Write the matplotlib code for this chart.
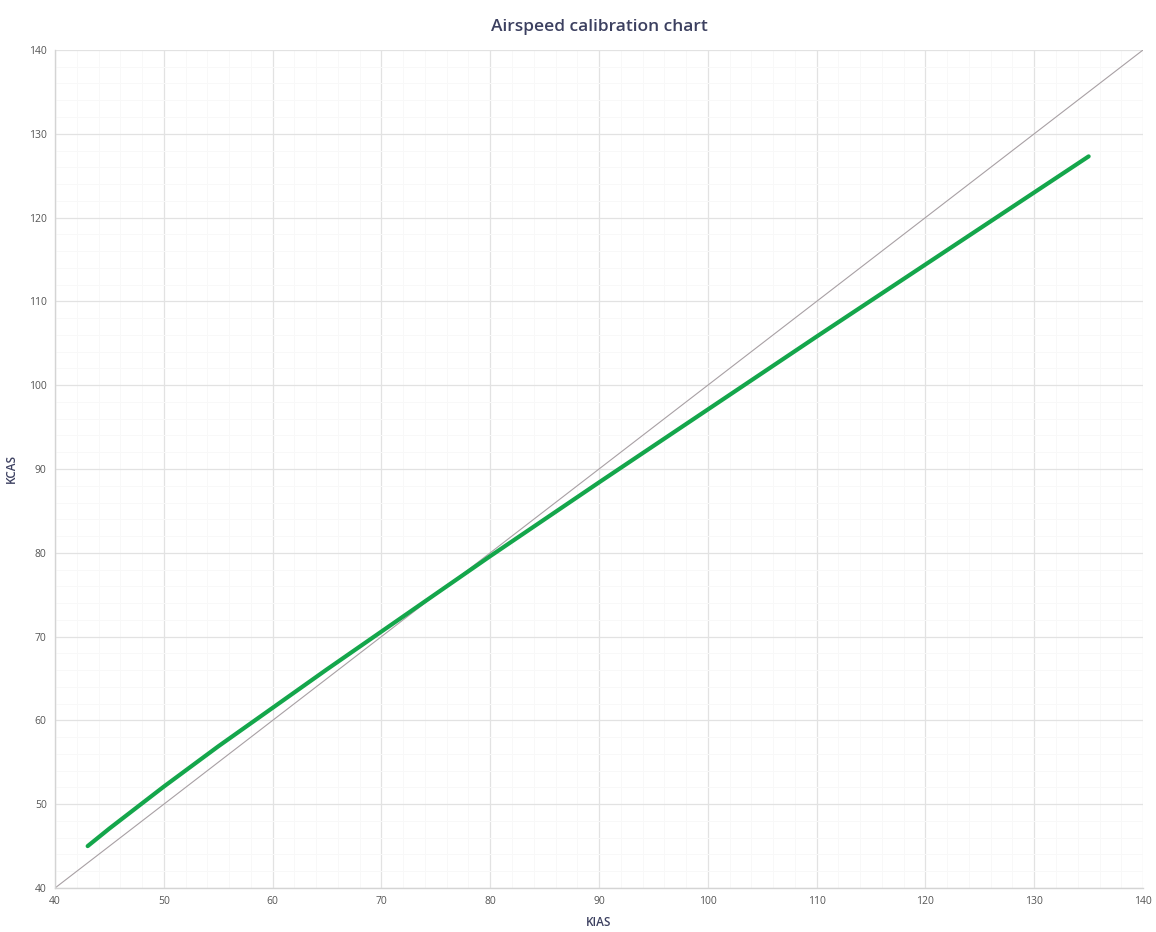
import matplotlib
matplotlib.use("Agg")
import matplotlib.pyplot as plt
from matplotlib.ticker import MultipleLocator

# Data
kias = [43, 45, 50, 55, 60, 65, 70, 75, 80, 90, 100, 110, 120, 130, 135]
kcas = [45.0, 47.1, 52.1, 56.9, 61.5, 66.1, 70.6, 75.1, 79.6, 88.4, 97.1, 105.8,
        114.4, 123.0, 127.3]
ref_line = [40, 140]
x_ticks = list(range(40, 141, 10))
y_ticks = list(range(40, 141, 10))

plt.rcParams['font.family'] = ['Open Sans', 'DejaVu Sans']

fig = plt.figure(figsize=(11.56, 9.32), dpi=100)
ax = fig.add_axes([0.0476, 0.0472, 0.9412, 0.8992])

ax.set_xlim(40, 140)
ax.set_ylim(40, 140)
ax.set_xticks(x_ticks)
ax.set_yticks(y_ticks)
ax.xaxis.set_minor_locator(MultipleLocator(2))
ax.yaxis.set_minor_locator(MultipleLocator(2))
ax.grid(which='major', color='#e2e2e2', linewidth=0.9)
ax.grid(which='minor', color='#f8f8f8', linewidth=0.7)
ax.set_axisbelow(True)

ax.plot(ref_line, ref_line, color='#a8a0a4', linewidth=0.8, zorder=2)
ax.plot(kias, kcas, color='#14a64b', linewidth=3.0, solid_capstyle='round',
        solid_joinstyle='round', zorder=3)

for s in ['top', 'right']:
    ax.spines[s].set_visible(False)
for s in ['left', 'bottom']:
    ax.spines[s].set_color('#d4d4d4')
    ax.spines[s].set_linewidth(1.0)

ax.tick_params(which='both', length=0, labelsize=7.5, labelcolor='#555555', pad=6)

ax.set_title('Airspeed calibration chart', fontsize=12.5, fontweight='semibold',
             color='#3c4060', pad=14)
ax.set_xlabel('KIAS', fontsize=8.5, fontweight='semibold', color='#3c4060', labelpad=6)
ax.set_ylabel('KCAS', fontsize=8.5, fontweight='semibold', color='#3c4060', labelpad=8)

fig.savefig('out.png', dpi=100, facecolor='white')
